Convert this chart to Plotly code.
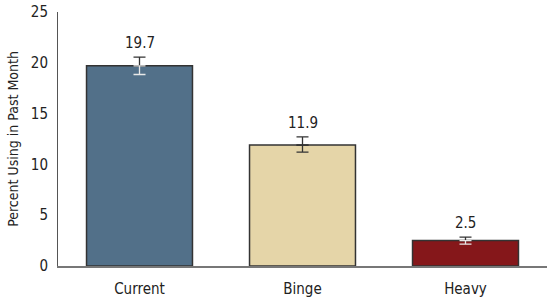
import plotly.graph_objects as go

categories = ["Current", "Binge", "Heavy"]
values = [19.7, 11.9, 2.5]
errors_plus = [0.85, 0.8, 0.35]
errors_minus = [0.85, 0.7, 0.35]
colors = ["#527089", "#E5D5A8", "#85171A"]
lower_err_colors = ["#E8E8E8", "#333333", "#E8E8E8"]
labels = ["19.7", "11.9", "2.5"]
y_ticks = [0, 5, 10, 15, 20, 25]

FONT = "DejaVu Sans Condensed, Liberation Sans Narrow, sans-serif"

fig = go.Figure()
fig.add_trace(go.Bar(
    x=categories, y=values,
    marker=dict(color=colors, line=dict(color="#333333", width=1.5)),
    error_y=dict(type="data", symmetric=False, array=errors_plus,
                 arrayminus=[0, 0, 0], color="#333333", thickness=1.3, width=6),
    showlegend=False, hoverinfo="skip",
))
for c, v, em, col in zip(categories, values, errors_minus, lower_err_colors):
    fig.add_trace(go.Scatter(
        x=[c], y=[v], mode="markers", marker=dict(size=0.1, color="rgba(0,0,0,0)"),
        error_y=dict(type="data", symmetric=False, array=[0], arrayminus=[em],
                     color=col, thickness=1.3, width=6),
        showlegend=False, hoverinfo="skip",
    ))

for c, v, ep, t in zip(categories, values, errors_plus, labels):
    fig.add_annotation(x=c, y=v + ep, text=t, showarrow=False, yanchor="bottom",
                       yshift=3, font=dict(family=FONT, size=15, color="#222222"))

fig.update_layout(
    width=550, height=298,
    margin=dict(l=58, r=3, t=12, b=32),
    paper_bgcolor="white", plot_bgcolor="white",
    bargap=0.35,
    font=dict(family=FONT, size=15, color="#222222"),
    xaxis=dict(showline=True, linecolor="#777777", linewidth=1.5, showgrid=False,
               ticks="outside", ticklen=8, tickcolor="rgba(0,0,0,0)", automargin=False,
               tickfont=dict(family=FONT, size=15, color="#222222")),
    yaxis=dict(range=[0, 25], tickvals=y_ticks, showline=True, linecolor="#555555",
               linewidth=1, showgrid=False, zeroline=False, automargin=False,
               ticks="outside", ticklen=6, tickcolor="rgba(0,0,0,0)",
               tickfont=dict(family=FONT, size=15, color="#222222"),
               title=dict(text="Percent Using in Past Month", standoff=8,
                          font=dict(family=FONT, size=14, color="#222222"))),
)

fig.write_html("out.html")
